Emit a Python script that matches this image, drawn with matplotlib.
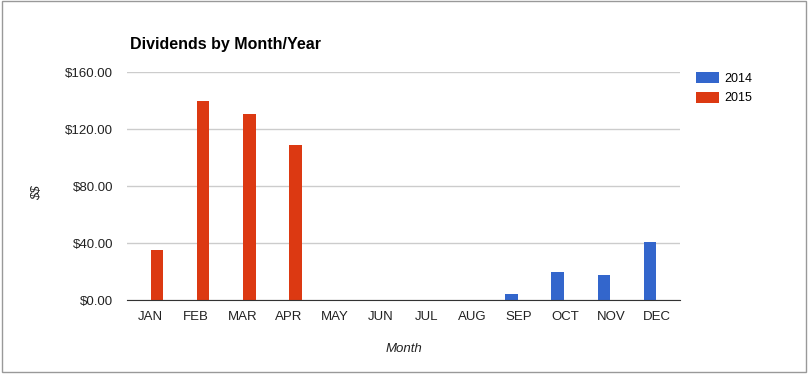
import numpy as np
import matplotlib.pyplot as plt
from matplotlib.patches import Rectangle

plt.rcParams['font.family'] = ['Liberation Sans', 'DejaVu Sans']
plt.rcParams['text.parse_math'] = False

months = ['JAN', 'FEB', 'MAR', 'APR', 'MAY', 'JUN', 'JUL', 'AUG', 'SEP', 'OCT', 'NOV', 'DEC']
div_2014 = [0, 0, 0, 0, 0, 0, 0, 0, 4.2, 19.6, 17.5, 40.7]
div_2015 = [35.1, 139.6, 130.5, 108.8, 0, 0, 0, 0, 0, 0, 0, 0]
y_ticks = [0, 40, 80, 120, 160]

fig = plt.figure(figsize=(8.1, 3.77), dpi=100)
ax = fig.add_axes([0.1568, 0.2042, 0.6827, 0.6048])

x = np.arange(len(months))
w = 0.28
ax.bar(x - 0.15, div_2014, width=w, color='#3366cc', label='2014', zorder=3)
ax.bar(x + 0.15, div_2015, width=w, color='#dc3912', label='2015', zorder=3)

ax.set_xlim(-0.5, len(months) - 0.5)
ax.set_ylim(0, 160)
ax.set_yticks(y_ticks)
ax.set_yticklabels(['${:.2f}'.format(v) for v in y_ticks])
ax.set_xticks(x)
ax.set_xticklabels(months)
ax.tick_params(length=0, labelsize=9.5, labelcolor='#222222')
ax.tick_params(axis='y', pad=10)
ax.tick_params(axis='x', pad=8)
ax.grid(axis='y', color='#cccccc', linewidth=1, zorder=0)
for s in ['top', 'right', 'left']:
    ax.spines[s].set_visible(False)
ax.spines['bottom'].set_color('#333333')
ax.spines['bottom'].set_zorder(4)

ax.set_xlabel('Month', fontsize=9.5, style='italic', labelpad=14, color='#222222')
fig.text(0.046, 0.49, '$$', rotation=90, fontsize=9.5, style='italic',
         ha='center', va='center', color='#222222')
fig.text(0.16, 0.883, 'Dividends by Month/Year', fontsize=11.5, fontweight='bold',
         ha='left', va='center')

ax.legend(loc='upper left', bbox_to_anchor=(1.008, 1.05), frameon=False,
          fontsize=9, handlelength=1.9, handleheight=1.0, handletextpad=0.4,
          labelspacing=0.55)

fig.patches.append(Rectangle((0.003, 0.013), 0.992, 0.984, transform=fig.transFigure,
                             fill=False, edgecolor='#999999', linewidth=1))

fig.savefig('out.png', dpi=100)
